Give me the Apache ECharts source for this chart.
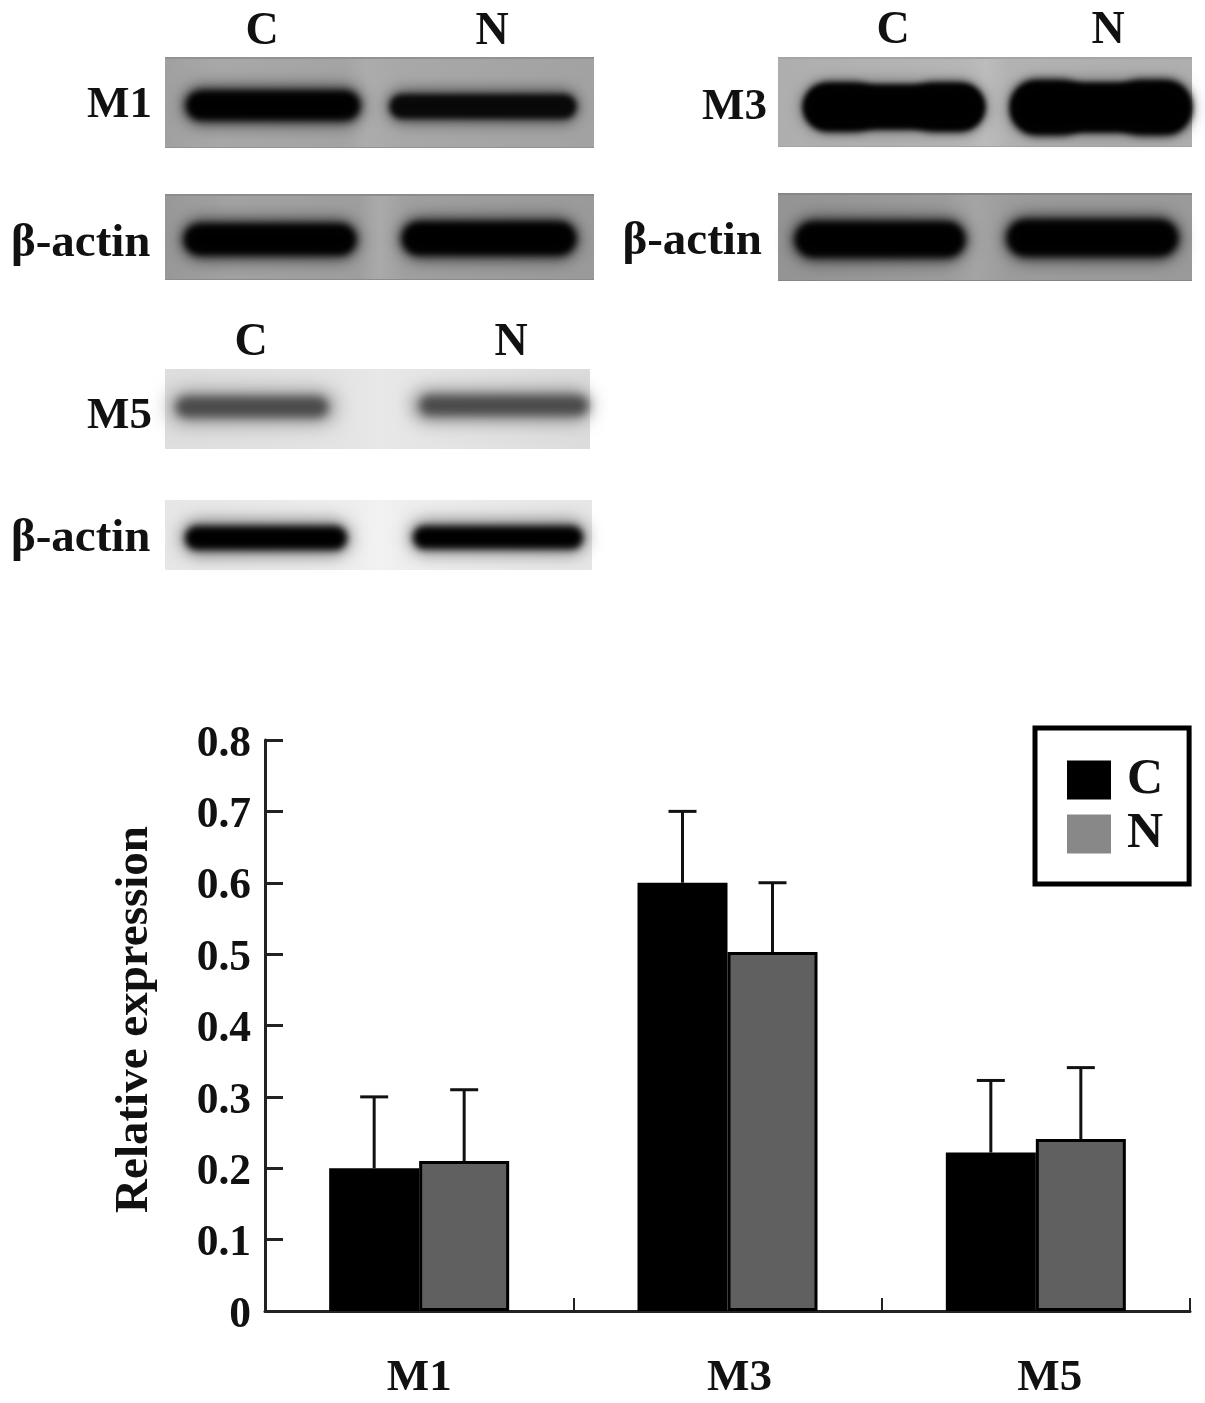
<!DOCTYPE html>
<html><head><meta charset="utf-8">
<style>html,body{margin:0;padding:0;background:#fff}#c{width:1205px;height:1403px}</style>
<script src="https://cdn.jsdelivr.net/npm/echarts@6/dist/echarts.min.js"></script>
</head><body><div id="c"></div>
<script>
const categories = ['M1', 'M3', 'M5'];
const seriesNames = ['C', 'N'];
const valuesC = [0.20, 0.60, 0.222];
const valuesN = [0.21, 0.503, 0.241];
const errTopC = [0.30, 0.70, 0.323];
const errTopN = [0.31, 0.60, 0.341];
const blotLaneLabels = ['C', 'N'];

const SERIF = '"Liberation Serif","Times New Roman",serif';
const BAR_W = 90;
const chart = echarts.init(document.getElementById('c'));

// ---- western-blot panel artwork (not data) ----
const g = [];
const OFF = 3000;
function panel(x0, y0, x1, y1, stops, edge) {
  g.push({type:'rect', silent:true, z:1, shape:{x:x0,y:y0,width:x1-x0,height:y1-y0},
    style:{fill:new echarts.graphic.LinearGradient(0,0,1,0,stops.map(c=>({offset:c[0],color:c[1]})))}});
  if (edge) {
    g.push({type:'rect', silent:true, z:1, shape:{x:x0,y:y0,width:x1-x0,height:2}, style:{fill:edge}});
    g.push({type:'rect', silent:true, z:1, shape:{x:x0,y:y1-1,width:x1-x0,height:1}, style:{fill:edge}});
  }
}
function soft(x0, y0, x1, y1, color, blur, r) {
  g.push({type:'rect', silent:true, z:2, shape:{x:x0-OFF,y:y0,width:x1-x0,height:y1-y0,r:r==null?(y1-y0)/2:r},
    style:{fill:'#000',shadowColor:color,shadowBlur:blur,shadowOffsetX:OFF}});
}
function band(x0, y0, x1, y1, color, blur) {
  soft(x0,y0-2,x1,y1+2,'rgba(0,0,0,0.6)',blur*2.4);
  soft(x0+2,y0+2,x1-2,y1-2,color,blur*1.3);
  soft(x0+5,y0+5,x1-5,y1-5,color,blur);
}
function lobed(x0, y0, x1, y1, waist) {
  soft(x0,y0+waist-2,x1,y1-waist+2,'rgba(0,0,0,0.55)',16);
  soft(x0+2,y0+waist,x1-2,y1-waist,'#000',6);
  soft(x0+2,y0+waist,x1-2,y1-waist,'#000',6);
  soft(x0+2,y0+1,x0+75,y1-1,'#000',8,24);
  soft(x1-75,y0+1,x1-2,y1-1,'#000',8,24);
}
const grayStops = [[0,'#a0a0a0'],[0.12,'#a8a8a8'],[0.42,'#a4a4a4'],[0.47,'#acacac'],[0.54,'#a8a8a8'],[1,'#a2a2a2']];
panel(165,57,594,148,grayStops,'#929292');
band(184,89,362,122,'#000',7);
band(388,93,578,120,'#080808',6);
panel(165,194,594,280,[[0,'#989898'],[0.15,'#a2a2a2'],[0.45,'#9e9e9e'],[0.5,'#aaaaaa'],[0.56,'#a0a0a0'],[1,'#9a9a9a']],'#8c8c8c');
band(182,222,358,257,'#000',7);
band(400,220,578,257,'#000',7);
panel(778,57,1192,147,[[0,'#aeaeae'],[0.45,'#b6b6b6'],[0.5,'#bcbcbc'],[0.56,'#b2b2b2'],[1,'#aeaeae']],'#a4a4a4');
lobed(803,82,985,132,4);
lobed(1010,79,1192,136,5);
panel(778,193,1192,281,[[0,'#949494'],[0.4,'#9c9c9c'],[0.48,'#a4a4a4'],[0.56,'#9c9c9c'],[1,'#9a9a9a']],'#868686');
band(793,220,967,259,'#000',7);
band(1005,218,1180,258,'#000',7);
panel(165,369,590,449,[[0,'#dedede'],[0.42,'#e4e4e4'],[0.5,'#e8e8e8'],[0.58,'#e6e6e6'],[1,'#dcdcdc']]);
soft(170,392,335,422,'#8a8a8a',20);
soft(412,390,590,421,'#8a8a8a',18);
soft(176,397,328,417,'#4a4a4a',10);
soft(420,396,588,415,'#4a4a4a',10);
panel(165,500,592,570,[[0,'#e6e6e6'],[0.45,'#eeeeee'],[0.5,'#f2f2f2'],[0.56,'#eeeeee'],[1,'#e6e6e6']]);
soft(181,520,351,556,'rgba(0,0,0,0.45)',16);
soft(409,520,587,554,'rgba(0,0,0,0.45)',16);
soft(185,526,347,550,'#000',7);
soft(413,526,583,549,'#000',7);

function label(txt, x, y, align, size) {
  g.push({type:'text', silent:true, z:5, x:x, y:y,
    style:{text:txt, font:'bold '+(size||46)+'px '+SERIF, fill:'#111', align:align||'center', verticalAlign:'middle'}});
}
[[262,492,32],[893,1108,31],[251,511,343]].forEach(r=>{ label(blotLaneLabels[0],r[0],r[2]); label(blotLaneLabels[1],r[1],r[2]); });
label(categories[0],152,105,'right',45);
label('β-actin',150.5,244,'right',47);
label(categories[1],767,107,'right',45);
label('β-actin',762,242,'right',47);
label(categories[2],152,416,'right',45);
label('β-actin',150.5,539,'right',47);

// ---- error bars drawn through the axes ----
function errSeries(name, tops, values, dir) {
  return {
    type:'custom', name:name+' error', silent:true, z:1,
    data: categories.map((c,i)=>[i, values[i], tops[i]]),
    encode:{x:0,y:[1,2]},
    renderItem(params, api){
      const lo = api.coord([api.value(0), api.value(1)]);
      const hi = api.coord([api.value(0), api.value(2)]);
      const x = lo[0] + dir*BAR_W/2;
      const st = {stroke:'#111', lineWidth:3};
      return {type:'group', children:[
        {type:'line', shape:{x1:x,y1:lo[1],x2:x,y2:hi[1]}, style:st},
        {type:'line', shape:{x1:x-14,y1:hi[1],x2:x+14,y2:hi[1]}, style:st}
      ]};
    }
  };
}

const catPad = {M1:0, M3:24, M5:28};
const catStyle = k => ({fontFamily:SERIF,fontWeight:'bold',fontSize:45,color:'#111',padding:[0,0,0,catPad[k]]});
chart.setOption({
  animation:false,
  backgroundColor:'#fff',
  graphic:{elements:g},
  grid:{left:265, right:15, top:740, bottom:92, containLabel:false},
  legend:{
    left:1035, top:728, orient:'vertical', align:'left',
    padding:[27,26,25,32], itemGap:4, itemWidth:44, itemHeight:39,
    borderColor:'#000', borderWidth:5, backgroundColor:'#fff',
    selectedMode:false,
    textStyle:{fontFamily:SERIF, fontWeight:'bold', fontSize:50, lineHeight:39, color:'#111', padding:[10,0,0,11]},
    data:[{name:seriesNames[0], icon:'rect', itemStyle:{color:'#000',borderWidth:0}},
          {name:seriesNames[1], icon:'rect', itemStyle:{color:'#888',borderWidth:0}}]
  },
  xAxis:{
    type:'category', data:categories, boundaryGap:true,
    axisLine:{lineStyle:{color:'#222',width:3}},
    axisTick:{show:true, inside:true, length:13, lineStyle:{color:'#222',width:2}},
    axisLabel:{margin:45, color:'#111',
      formatter:v=>'{'+v+'|'+v+'}',
      rich:{M1:catStyle('M1'),M3:catStyle('M3'),M5:catStyle('M5')}}
  },
  yAxis:{
    type:'value', min:0, max:0.8, interval:0.1,
    name:'Relative expression', nameLocation:'middle', nameGap:107, nameRotate:90,
    nameTextStyle:{fontFamily:SERIF,fontWeight:'bold',fontSize:47,color:'#111',padding:[0,0,0,12]},
    splitLine:{show:false},
    axisLine:{show:true,lineStyle:{color:'#222',width:3}},
    axisTick:{show:true, inside:true, length:18, lineStyle:{color:'#222',width:3}},
    axisLabel:{margin:14, color:'#111',
      formatter:v=>'{t|'+(v===0?'0':v.toFixed(1))+'}',
      rich:{t:{fontFamily:SERIF,fontWeight:'bold',fontSize:43.5,color:'#111',padding:[9,0,0,0]}}}
  },
  series:[
    errSeries('C',errTopC,valuesC,-1),
    errSeries('N',errTopN,valuesN,1),
    {type:'bar', name:seriesNames[0], data:valuesC, barWidth:BAR_W, barGap:0, z:2,
      itemStyle:{color:'#000',borderColor:'#000',borderWidth:3}},
    {type:'bar', name:seriesNames[1], data:valuesN, barWidth:BAR_W, barGap:0, z:3,
      itemStyle:{color:'#606060',borderColor:'#000',borderWidth:3}}
  ]
});
</script></body></html>
